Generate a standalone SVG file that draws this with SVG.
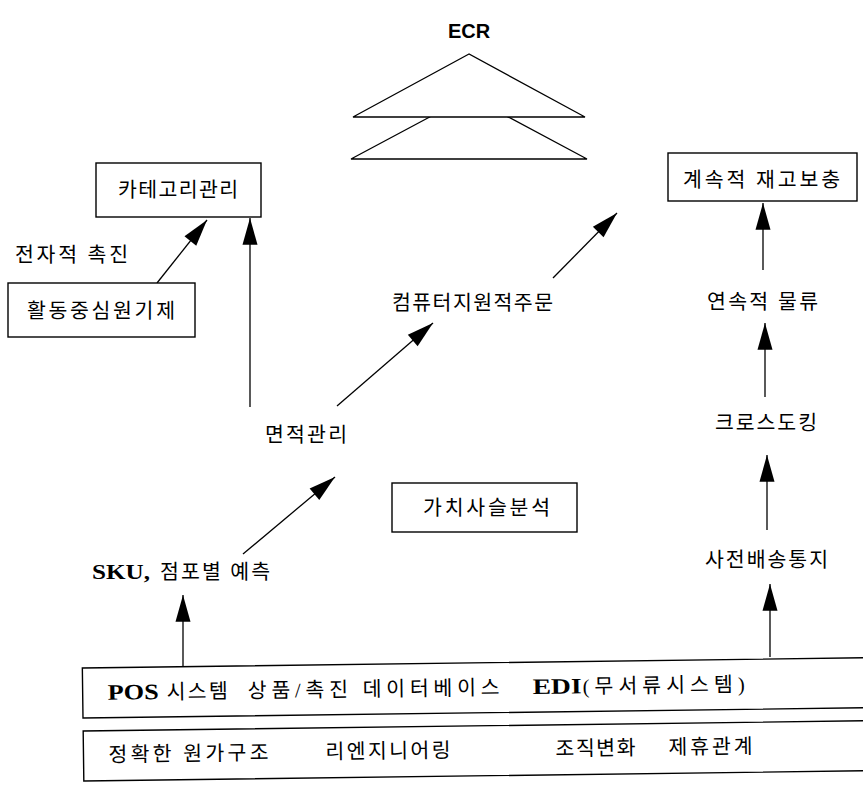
<svg xmlns="http://www.w3.org/2000/svg" width="863" height="786" viewBox="0 0 863 786">
<defs>
<style>
.box{fill:#fff;stroke:#000;stroke-width:1.4}
.t{font-family:"Liberation Serif","Noto Sans CJK KR",serif;font-size:20.5px;fill:#000}
.b{font-weight:bold;font-size:22px}
.ln{stroke:#000;stroke-width:1.3;fill:none}
.tri{fill:#fff;stroke:#000;stroke-width:1.3}
</style>
<marker id="ah" markerUnits="userSpaceOnUse" markerWidth="30" markerHeight="20" viewBox="-26 -8 28 16" refX="0" refY="0" orient="auto">
<path d="M0,0 L-25,-7 L-25,7 Z" fill="#000"/>
</marker>
</defs>
<rect width="863" height="786" fill="#fff"/>

<g id="ecr">
<text x="469" y="38" text-anchor="middle" style="font-family:'Liberation Sans',Arial,sans-serif;font-size:20px;font-weight:bold">ECR</text>
<polygon class="tri" points="469,96 351,159 587,159"/>
<polygon class="tri" points="469,54 353,117 585,117"/>
</g>

<g id="connectors">
<line class="ln" x1="157" y1="283" x2="207" y2="220" marker-end="url(#ah)"/>
<line class="ln" x1="250" y1="407" x2="250" y2="218" marker-end="url(#ah)"/>
<line class="ln" x1="243" y1="554" x2="335" y2="477" marker-end="url(#ah)"/>
<line class="ln" x1="337" y1="406" x2="433" y2="323" marker-end="url(#ah)"/>
<line class="ln" x1="553" y1="278" x2="617" y2="213" marker-end="url(#ah)"/>
<line class="ln" x1="763" y1="270" x2="763" y2="203" marker-end="url(#ah)"/>
<line class="ln" x1="765" y1="397" x2="765" y2="323" marker-end="url(#ah)"/>
<line class="ln" x1="767" y1="530" x2="767" y2="455" marker-end="url(#ah)"/>
<line class="ln" x1="770" y1="657" x2="770" y2="584" marker-end="url(#ah)"/>
<line class="ln" x1="183" y1="667" x2="183" y2="595" marker-end="url(#ah)"/>
</g>

<g id="category">
<rect class="box" x="96" y="163" width="165" height="54"/>
<text class="t" x="178" y="197" text-anchor="middle" textLength="120" lengthAdjust="spacing">카테고리관리</text>
</g>
<g id="epromo">
<text class="t" x="15" y="262" textLength="113" lengthAdjust="spacing">전자적 촉진</text>
</g>
<g id="abc">
<rect class="box" x="8" y="283" width="187" height="54"/>
<text class="t" x="27" y="318" textLength="148" lengthAdjust="spacing">활동중심원기제</text>
</g>
<g id="space">
<text class="t" x="265" y="442" textLength="82" lengthAdjust="spacing">면적관리</text>
</g>
<g id="cao">
<text class="t" x="392" y="310" textLength="161" lengthAdjust="spacing">컴퓨터지원적주문</text>
</g>
<g id="crp">
<rect class="box" x="668" y="153" width="189" height="48"/>
<text class="t" x="683" y="187" textLength="157" lengthAdjust="spacing">계속적 재고보충</text>
</g>
<g id="flow">
<text class="t" x="707" y="309" textLength="111" lengthAdjust="spacing">연속적 물류</text>
</g>
<g id="xdock">
<text class="t" x="715" y="430" textLength="102" lengthAdjust="spacing">크로스도킹</text>
</g>
<g id="valuechain">
<rect class="box" x="392" y="483" width="185" height="49"/>
<text class="t" x="423" y="515" textLength="127" lengthAdjust="spacing">가치사슬분석</text>
</g>
<g id="sku">
<text class="t b" x="92" y="579" textLength="58" lengthAdjust="spacingAndGlyphs">SKU,</text>
<text class="t" x="160" y="579" textLength="110" lengthAdjust="spacing">점포별 예측</text>
</g>
<g id="asn">
<text class="t" x="705" y="567" textLength="123" lengthAdjust="spacing">사전배송통지</text>
</g>

<g id="base" transform="rotate(-0.75 83 718)">
<g id="infra">
<rect class="box" x="83" y="668" width="800" height="50"/>
<text class="t b" x="108" y="700" textLength="51" lengthAdjust="spacingAndGlyphs">POS</text>
<text class="t" x="167" y="700" textLength="61" lengthAdjust="spacing">시스템</text>
<text class="t" x="248" y="700" textLength="252" lengthAdjust="spacing">상품/촉진 데이터베이스</text>
<text class="t b" x="533" y="700" textLength="49" lengthAdjust="spacingAndGlyphs">EDI</text>
<text class="t" x="583" y="700" textLength="162" lengthAdjust="spacing">(무서류시스템)</text>
</g>
<g id="org">
<rect class="box" x="83" y="731" width="800" height="50"/>
<text class="t" x="108" y="762" textLength="160" lengthAdjust="spacing">정확한 원가구조</text>
<text class="t" x="325" y="762" textLength="125" lengthAdjust="spacing">리엔지니어링</text>
<text class="t" x="555" y="762" textLength="80" lengthAdjust="spacing">조직변화</text>
<text class="t" x="668" y="762" textLength="84" lengthAdjust="spacing">제휴관계</text>
</g>
</g>
</svg>
